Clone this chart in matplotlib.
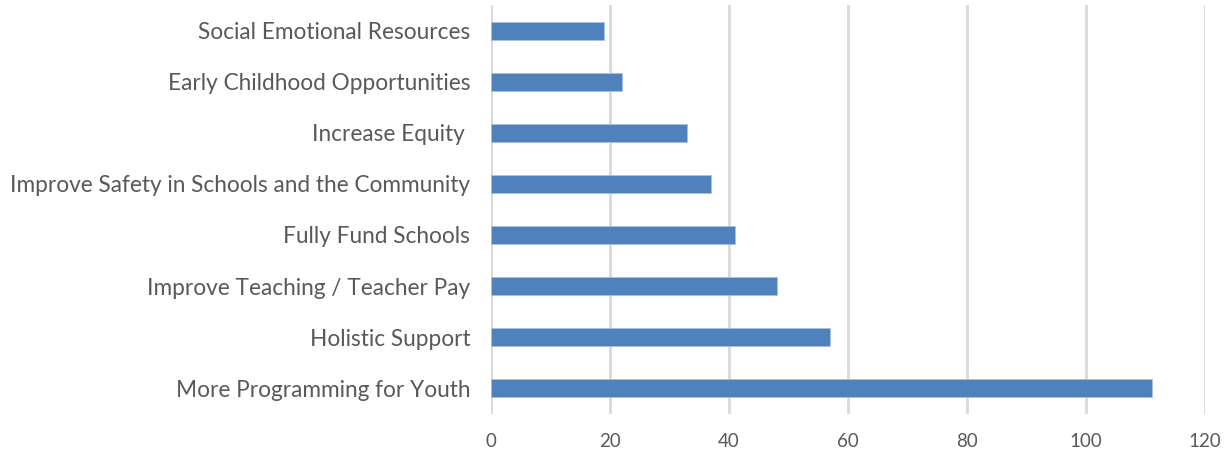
import matplotlib
matplotlib.use("Agg")
import matplotlib.pyplot as plt

categories = [
    "More Programming for Youth",
    "Holistic Support",
    "Improve Teaching / Teacher Pay",
    "Fully Fund Schools",
    "Improve Safety in Schools and the Community",
    "Increase Equity ",
    "Early Childhood Opportunities",
    "Social Emotional Resources",
]
counts = [111, 57, 48, 41, 37, 33, 22, 19]
xticks = [0, 20, 40, 60, 80, 100, 120]

plt.rcParams["font.family"] = ["Lato", "DejaVu Sans"]

fig = plt.figure(figsize=(12.26, 4.5), dpi=100)
ax = fig.add_axes([0.4005, 0.081, 0.5825, 0.907])

ypos = list(range(len(categories)))
ax.barh(ypos, counts, height=0.35, color="#4F81BD", edgecolor="#A9C1E0",
        linewidth=0.6, zorder=3)

ax.set_xlim(0, 120)
ax.set_ylim(-0.5, len(categories) - 0.5)
ax.set_xticks(xticks)
ax.set_yticks(ypos)
ax.set_yticklabels(categories)
ax.xaxis.grid(True, color="#D9D9D9", linewidth=2, zorder=0)
ax.set_axisbelow(True)

for s in ax.spines.values():
    s.set_visible(False)

ax.tick_params(axis="y", length=0, pad=15, labelsize=16.3, labelcolor="#595959")
ax.tick_params(axis="x", length=0, pad=14, labelsize=13.5, labelcolor="#595959")

fig.savefig("out.png", dpi=100, facecolor="white")
